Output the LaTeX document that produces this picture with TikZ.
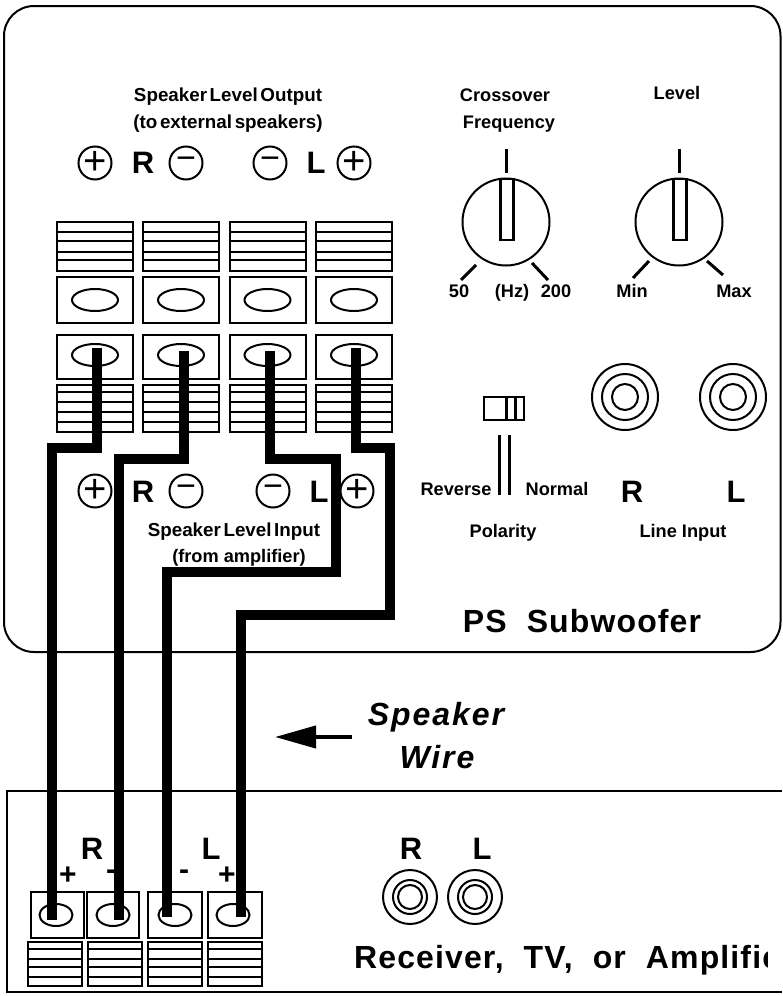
\documentclass[tikz,border=0pt]{standalone}
\usepackage{fontspec}
\setmainfont{Liberation Sans}
\newfontfamily\spacedfont{Liberation Sans}[LetterSpace=3.5]
\newfontfamily\wirefont{Liberation Sans}[LetterSpace=6.0]
\newfontfamily\tightfont{Liberation Sans}[WordSpace=0.5]
\usetikzlibrary{shapes.geometric,arrows.meta}
\tikzset{
  txt/.style={inner sep=0pt,anchor=base,font=\bfseries\fontsize{18.2}{18.2}\selectfont},
  tighttxt/.style={inner sep=0pt,anchor=base,font=\tightfont\bfseries\fontsize{18.8}{18.8}\selectfont},
  bigtxt/.style={inner sep=0pt,anchor=base,font=\bfseries\fontsize{31}{31}\selectfont},
  title/.style={inner sep=0pt,anchor=base,font=\spacedfont\bfseries\fontsize{32}{32}\selectfont},
  wiretxt/.style={inner sep=0pt,anchor=base,font=\wirefont\bfseries\itshape\fontsize{32}{32}\selectfont},
  recsign/.style={inner sep=0pt,font=\bfseries\fontsize{30}{30}\selectfont},
  sign/.style={draw,circle,line width=2pt,minimum size=33pt,inner sep=0pt,font=\fontsize{40}{40}\selectfont},
  signm/.style={sign,font=\fontsize{34}{34}\selectfont},
  part/.style={draw,rectangle,line width=2pt,inner sep=0pt},
  linesat/.style={path picture={\foreach \d in {#1} \draw[line width=2.5pt]
    ([yshift=-\d pt]path picture bounding box.north west) --
    ([yshift=-\d pt]path picture bounding box.north east);}},
  stripa/.style={part,minimum width=76pt,minimum height=49pt,linesat={10,19,30,38}},
  stripb/.style={part,minimum width=76pt,minimum height=47pt,linesat={7,17,27,37}},
  stripc/.style={part,minimum width=54pt,minimum height=44pt,linesat={7,17,25,35}},
  post/.style={draw,ellipse,line width=2pt,minimum width=46pt,minimum height=22pt,inner sep=0pt},
  smallpost/.style={post,minimum width=33pt},
  knob/.style={draw,circle,line width=2pt,minimum size=87pt,inner sep=0pt},
  pointer/.style={part,line width=2.5pt,minimum width=13pt,minimum height=61pt},
  ring/.style={draw,circle,line width=2pt,inner sep=0pt},
  tick/.style={line width=3pt},
  wire/.style={line width=9.5pt,miter limit=10},
}
\begin{document}
\begin{tikzpicture}[x=1pt,y=-1pt]
      \useasboundingbox (0,0) rectangle (782,996);
      \draw[line width=2pt,rounded corners=30pt] (4,6) rectangle (780.5,652);
      \draw[line width=2.5pt] (782,791) -- (7,791) -- (7,992) -- (782,992);
      \draw
        (228,101) node[tighttxt] (outhead){Speaker Level Output}
        (228,128) node[tighttxt] (outsub){(to external speakers)}
        (95,163) node[sign] (outRp){+}
        (143,173) node[bigtxt] (outR){R}
        (186,163) node[signm] (outRm){−}
        (270,163) node[signm] (outLm){−}
        (316,173) node[bigtxt] (outL){L}
        (354,163) node[sign] (outLp){+};
      \draw
        (94.5,246.5) node[stripa] (topa){}
        (181,246.5) node[stripa] (topb){}
        (267.5,246.5) node[stripa] (topc){}
        (354,246.5) node[stripa] (topd){}
        (94.5,300) node[part,minimum width=76pt,minimum height=46pt] (sqa){}
        (181,300) node[part,minimum width=76pt,minimum height=46pt] (sqb){}
        (267.5,300) node[part,minimum width=76pt,minimum height=46pt] (sqc){}
        (354,300) node[part,minimum width=76pt,minimum height=46pt] (sqd){}
        (95,300) node[post] (posta){}
        (181,300) node[post] (postb){}
        (267.5,300) node[post] (postc){}
        (354,300) node[post] (postd){}
        (94.5,357) node[part,minimum width=76pt,minimum height=44pt] (inqa){}
        (181,357) node[part,minimum width=76pt,minimum height=44pt] (inqb){}
        (267.5,357) node[part,minimum width=76pt,minimum height=44pt] (inqc){}
        (354,357) node[part,minimum width=76pt,minimum height=44pt] (inqd){}
        (95,355) node[post] (inpa){}
        (181,355) node[post] (inpb){}
        (267.5,355) node[post] (inpc){}
        (354,355) node[post] (inpd){}
        (94.5,408.5) node[stripb] (lowa){}
        (181,408.5) node[stripb] (lowb){}
        (267.5,408.5) node[stripb] (lowc){}
        (354,408.5) node[stripb] (lowd){};
      \draw
        (95,491) node[sign] (inRp){+}
        (143,502) node[bigtxt] (inR){R}
        (186,491) node[signm] (inRm){−}
        (273,491) node[signm] (inLm){−}
        (319,502) node[bigtxt] (inL){L}
        (357,491) node[sign] (inLp){+}
        (234,536) node[tighttxt] (inhead){Speaker Level Input}
        (239,562) node[txt] (insub){(from amplifier)};
      \draw
        (505,101) node[txt] (xover){Crossover}
        (509,128) node[txt] (freq){Frequency}
        (677,99) node[txt] (level){Level}
        (506,222) node[knob] (knoba){}
        (507,209.5) node[pointer] (ptra){}
        (679,222) node[knob] (knobb){}
        (680,209.5) node[pointer] (ptrb){}
        (459,297) node[txt] (fifty){50}
        (512,297) node[txt] (hz){(Hz)}
        (556,297) node[txt] (twohund){200}
        (632,297) node[txt] (minlab){Min}
        (734,297) node[txt] (maxlab){Max};
      \coordinate (aup) at (506,149);
      \coordinate (aupe) at (506,173);
      \coordinate (aleft) at (476,265);
      \coordinate (alefte) at (461,280);
      \coordinate (aright) at (532,263);
      \coordinate (arighte) at (548,280);
      \coordinate (bup) at (679,149);
      \coordinate (bupe) at (679,173);
      \coordinate (bleft) at (649,261);
      \coordinate (blefte) at (633,278);
      \coordinate (bright) at (707,261);
      \coordinate (brighte) at (723,275);
      \begin{scope}[tick]
        \draw (aup) to (aupe);
        \draw (aleft) to (alefte);
        \draw (aright) to (arighte);
        \draw (bup) to (bupe);
        \draw (bleft) to (blefte);
        \draw (bright) to (brighte);
      \end{scope}
      \draw
        (504,408.5) node[part,minimum width=40pt,minimum height=23pt] (switch){}
        (456,495) node[txt] (rev){Reverse}
        (557,495) node[txt] (norm){Normal}
        (503,537) node[txt] (pol){Polarity}
        (632,502) node[bigtxt] (lineR){R}
        (736,502) node[bigtxt] (lineL){L}
        (683,537) node[txt] (linein){Line Input}
        (625,397) node[ring,minimum size=66pt] (jra){}
        (625,397) node[ring,minimum size=46pt] (jrb){}
        (625,397) node[ring,minimum size=26pt] (jrc){}
        (733,397) node[ring,minimum size=66pt] (jla){}
        (733,397) node[ring,minimum size=46pt] (jlb){}
        (733,397) node[ring,minimum size=26pt] (jlc){};
      \coordinate (swa) at (506,397);
      \coordinate (swae) at (506,420);
      \coordinate (swb) at (515,397);
      \coordinate (swbe) at (515,420);
      \coordinate (bara) at (499,435);
      \coordinate (barae) at (499,495);
      \coordinate (barb) at (509,435);
      \coordinate (barbe) at (509,495);
      \begin{scope}[tick]
        \draw (swa) to (swae);
        \draw (swb) to (swbe);
        \draw (bara) to (barae);
        \draw (barb) to (barbe);
      \end{scope}
      \draw
        (582,632) node[title] (ps){PS\ \ Subwoofer}
        (436,725) node[wiretxt] (spk){Speaker}
        (437,768) node[wiretxt] (wirelab){Wire};
      \coordinate (arrowtail) at (352,737);
      \coordinate (arrowtip) at (275,737);
      \draw[line width=4pt,-{Triangle[length=41pt,width=22pt]}] (arrowtail) to (arrowtip);
      \draw
        (92,859) node[bigtxt] (recR){R}
        (211,859) node[bigtxt] (recL){L}
        (68,876) node[recsign] (recRp){+}
        (111,875) node[recsign] (recRm){-}
        (184,875) node[recsign] (recLm){-}
        (227,876) node[recsign] (recLp){+}
        (57.5,915) node[part,minimum width=53pt,minimum height=46pt] (recsa){}
        (113,915) node[part,minimum width=52pt,minimum height=46pt] (recsb){}
        (175,915) node[part,minimum width=54pt,minimum height=46pt] (recsc){}
        (235,915) node[part,minimum width=54pt,minimum height=46pt] (recsd){}
        (56,915) node[smallpost] (recpa){}
        (113,915) node[smallpost] (recpb){}
        (175,915) node[smallpost] (recpc){}
        (233,915) node[smallpost] (recpd){}
        (55,964) node[stripc] (recta){}
        (115,964) node[stripc] (rectb){}
        (175,964) node[stripc] (rectc){}
        (235,964) node[stripc] (rectd){}
        (411,859) node[bigtxt] (jackR){R}
        (482,859) node[bigtxt] (jackL){L}
        (410,897) node[ring,minimum size=54pt] (jka){}
        (410,897) node[ring,minimum size=34pt] (jkb){}
        (410,897) node[ring,minimum size=24pt] (jkc){}
        (475,897) node[ring,minimum size=54pt] (jkd){}
        (475,897) node[ring,minimum size=34pt] (jke){}
        (475,897) node[ring,minimum size=24pt] (jkf){};
      \begin{scope}
        \clip (0,930) rectangle (767,996);
        \node[title,anchor=base west] (recv) at (354,968) {Receiver,\ \ TV,\ \ or\ \ Amplifier};
      \end{scope}
      \coordinate (wa) at (97,348);
      \coordinate (wb) at (184,351);
      \coordinate (wc) at (270,351);
      \coordinate (wd) at (356,348);
      \coordinate (ea) at (52,920);
      \coordinate (eb) at (119,920);
      \coordinate (ec) at (167,917);
      \coordinate (ed) at (241,917);
      \begin{scope}[wire]
        \draw (wa) -- ++(0,100) -| (ea);
        \draw (wb) -- ++(0,108) -| (eb);
        \draw (wc) -- ++(0,108) -- ++(66,0) -- ++(0,113) -| (ec);
        \draw (wd) -- ++(0,100) -- ++(34,0) -- ++(0,167) -| (ed);
      \end{scope}
    \end{tikzpicture}
\end{document}
